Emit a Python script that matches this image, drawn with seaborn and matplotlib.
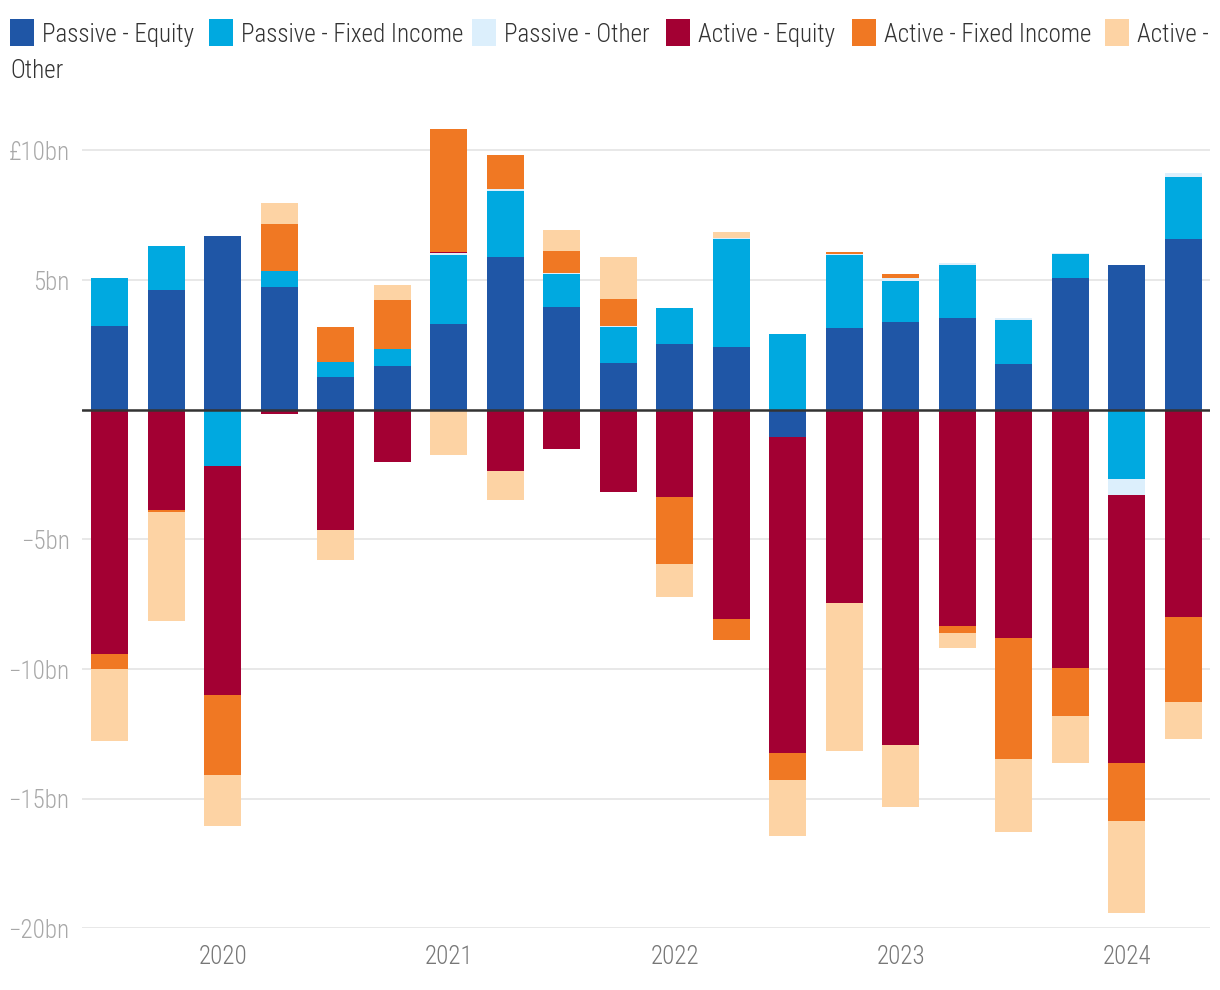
import numpy as np
import matplotlib
matplotlib.use("Agg")
import matplotlib.pyplot as plt
from matplotlib.patches import Rectangle
from matplotlib import font_manager as fm
import seaborn as sns

# ---------------- data (GBP bn, quarterly flows) ----------------
quarters = ["2019 Q3", "2019 Q4",
            "2020 Q1", "2020 Q2", "2020 Q3", "2020 Q4",
            "2021 Q1", "2021 Q2", "2021 Q3", "2021 Q4",
            "2022 Q1", "2022 Q2", "2022 Q3", "2022 Q4",
            "2023 Q1", "2023 Q2", "2023 Q3", "2023 Q4",
            "2024 Q1", "2024 Q2"]

passive_equity = [3.24, 4.63, 6.71, 4.74, 1.27, 1.70, 3.32, 5.90, 3.97, 1.81,
                  2.54, 2.43, -1.04, 3.16, 3.39, 3.55, 1.77, 5.09, 5.59, 6.59]
passive_fixed_income = [1.85, 1.70, -2.15, 0.62, 0.59, 0.63, 2.66, 2.54, 1.27, 1.39,
                        1.39, 4.16, 2.93, 2.82, 1.58, 2.04, 1.70, 0.93, -2.66, 2.39]
passive_other = [0.0, 0.0, 0.0, 0.0, 0.0, 0.03, 0.06, 0.06, 0.04, 0.04,
                 0.0, 0.04, 0.0, 0.03, 0.12, 0.08, 0.08, 0.04, -0.62, 0.15]
active_equity = [-9.43, -3.85, -8.86, -0.16, -4.63, -2.01, 0.04, -2.35, -1.51, -3.16,
                 -3.36, -8.08, -12.20, -7.44, -12.93, -8.35, -8.79, -9.97, -10.35, -8.00]
active_fixed_income = [-0.58, -0.08, -3.08, 1.81, 1.34, 1.88, 4.76, 1.33, 0.85, 1.04,
                       -2.58, -0.81, -1.04, 0.08, 0.15, -0.27, -4.68, -1.85, -2.23, -3.28]
active_other = [-2.75, -4.20, -1.96, 0.81, -1.15, 0.58, -1.74, -1.12, 0.81, 1.62,
                -1.27, 0.23, -2.16, -5.72, -2.39, -0.58, -2.81, -1.81, -3.53, -1.41]

series_names = ["Passive - Equity", "Passive - Fixed Income", "Passive - Other",
                "Active - Equity", "Active - Fixed Income", "Active - Other"]
series_values = [passive_equity, passive_fixed_income, passive_other,
                 active_equity, active_fixed_income, active_other]
series_colors = ["#1F56A6", "#00A9E0", "#DCEFFC", "#A30033", "#F07823", "#FDD3A4"]

year_labels = ["2020", "2021", "2022", "2023", "2024"]
ytick_values = [-20, -15, -10, -5, 0, 5, 10]
ytick_labels = ["\u221220bn", "\u221215bn", "\u221210bn", "\u22125bn", "", "5bn", "\u00a310bn"]

# ---------------- style ----------------
sns.set_style("white")
available = {}
for f in fm.fontManager.ttflist:
    available.setdefault(f.name, set()).add(f.weight)
preferred = ["Roboto Condensed", "Barlow Semi Condensed", "Archivo Narrow",
             "PT Sans Narrow", "Fira Sans Condensed", "IBM Plex Sans Condensed",
             "Liberation Sans Narrow", "Roboto"]
chosen = next((p for p in preferred if p in available), "DejaVu Sans")
weights = available.get(chosen, {400})
text_weight = 300 if 300 in weights else 400
plt.rcParams["font.family"] = [chosen, "DejaVu Sans"]
plt.rcParams["font.weight"] = text_weight
FS = 18

fig = plt.figure(figsize=(12.2, 9.9), dpi=100)
W, H = 1220, 990
ax = fig.add_axes([82 / W, 1 - 928.4 / H, (1210 - 82) / W, (928.4 - 110) / H])

# ---------------- stacked bars (positive and negative stacks) ----------------
pos_base = np.zeros(len(quarters))
neg_base = np.zeros(len(quarters))
for vals, col in zip(series_values, series_colors):
    v = np.asarray(vals, dtype=float)
    bottom = np.where(v >= 0, pos_base, neg_base)
    sns.barplot(x=quarters, y=v, order=quarters, bottom=bottom, color=col,
                width=0.655, errorbar=None, saturation=1, linewidth=0, ax=ax)
    pos_base = pos_base + np.where(v > 0, v, 0)
    neg_base = neg_base + np.where(v < 0, v, 0)

# ---------------- axes ----------------
ax.set_xlim(-0.49, len(quarters) - 0.53)
ax.set_ylim(-20, (928.4 - 110) / 25.93 - 20)
ax.set_xlabel("")
ax.set_ylabel("")
for s in ax.spines.values():
    s.set_visible(False)

ax.set_yticks(ytick_values)
ax.set_yticklabels(ytick_labels)
ax.yaxis.grid(True, color="#e6e6e6", linewidth=1.3)
ax.set_axisbelow(True)
ax.axhline(0, color="#333333", linewidth=1.8, zorder=5)

year_pos = [i for i, q in enumerate(quarters) if q.endswith("Q1")]
ax.set_xticks(year_pos)
ax.set_xticklabels(year_labels)
ax.tick_params(axis="x", length=0, pad=12, labelsize=FS, labelcolor="#777777")
ax.tick_params(axis="y", length=0, pad=9, labelsize=FS, labelcolor="#a8a8a8")
for lab in ax.get_xticklabels() + ax.get_yticklabels():
    lab.set_fontweight(text_weight)

# ---------------- legend (wrapped like the reference) ----------------
handle_x = [10, 209, 472, 666, 852, 1105]
row1_base, row2_base = 41.7, 78.3
for name, col, hx in zip(series_names, series_colors, handle_x):
    fig.patches.append(Rectangle((hx / W, 1 - 46 / H), 24 / W, 27 / H,
                                 transform=fig.transFigure, facecolor=col,
                                 edgecolor="none"))
    tx = (hx + 32) / W
    if name == "Active - Other":
        first, second = name.rsplit(" ", 1)
        fig.text(tx, 1 - row1_base / H, first, fontsize=FS, color="#333333",
                 ha="left", va="baseline", fontweight=text_weight)
        fig.text(10 / W, 1 - row2_base / H, second, fontsize=FS, color="#333333",
                 ha="left", va="baseline", fontweight=text_weight)
    else:
        fig.text(tx, 1 - row1_base / H, name, fontsize=FS, color="#333333",
                 ha="left", va="baseline", fontweight=text_weight)

fig.savefig("out.png", dpi=100, facecolor="white")
